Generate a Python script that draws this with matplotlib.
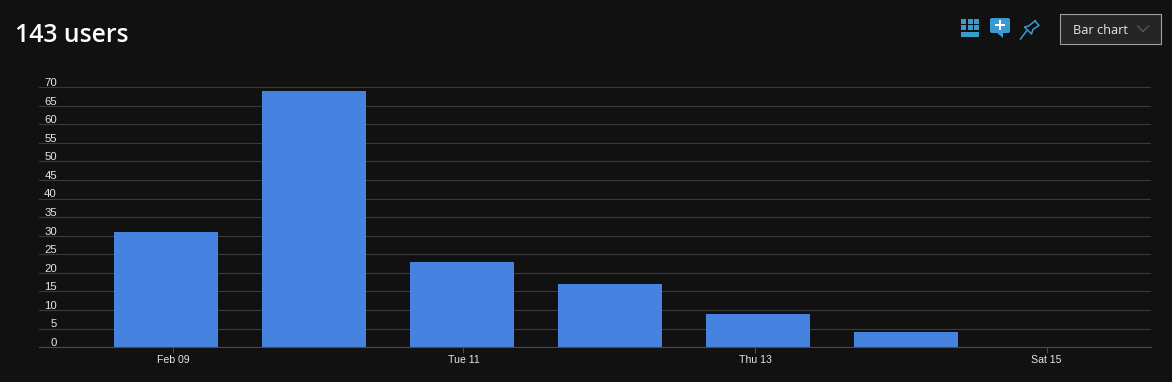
import matplotlib
matplotlib.use("Agg")
import matplotlib.pyplot as plt
from matplotlib.patches import Rectangle, FancyBboxPatch, Polygon

days = ["Feb 09", "Feb 10", "Tue 11", "Feb 12", "Thu 13", "Feb 14", "Sat 15"]
users = [31, 69, 23, 17, 9, 4, 0]
y_ticks = list(range(0, 75, 5))
x_tick_labels = ["Feb 09", "Tue 11", "Thu 13", "Sat 15"]
x_tick_pos = [0.05, 2.01, 3.98, 5.95]
title = "143 users"
view_label = "Bar chart"

BG = "#111111"
BAR = "#4682df"
GRID = "#3a3a3a"
ICON = "#3a9bd0"
W, H = 1172, 382

fig = plt.figure(figsize=(W / 100, H / 100), dpi=100, facecolor=BG)
ax = fig.add_axes([39 / W, 1 - 347.2 / H, (1151 - 39) / W, 260 / H], facecolor=BG)

x = list(range(len(days)))
ax.bar(x, users, width=104 / 148, color=BAR, zorder=3)
ax.set_xlim(-127 / 148, 985 / 148)
ax.set_ylim(0, 70)

for s in ax.spines.values():
    s.set_visible(False)
ax.spines["bottom"].set_visible(True)
ax.spines["bottom"].set_color("#4a4a4a")
ax.spines["bottom"].set_linewidth(0.8)
ax.spines["bottom"].set_zorder(4)

ax.set_yticks(y_ticks)
ax.set_yticklabels([])
ax.tick_params(axis="y", length=0)
ax.grid(axis="y", color=GRID, linewidth=0.8, zorder=1)
ax.set_axisbelow(True)
for v in y_ticks:
    ax.annotate(str(v), xy=(0, v), xycoords=ax.get_yaxis_transform(), xytext=(12.9, -0.6),
                textcoords="offset points", ha="right", va="bottom", color="#e6e6e6",
                fontsize=8.2, family="Liberation Sans")

ax.set_xticks(x_tick_pos)
ax.set_xticklabels(x_tick_labels, family="Liberation Sans", fontsize=7.6, color="#e6e6e6")
ax.tick_params(axis="x", length=4.2, width=0.8, color="#4a4a4a", pad=1.2)

# overlay in pixel coords for title + toolbar
ov = fig.add_axes([0, 0, 1, 1], facecolor="none")
ov.set_xlim(0, W)
ov.set_ylim(H, 0)
ov.axis("off")

ov.text(15, 35.5, title, color="white", fontsize=17.8, fontweight="semibold", family="Open Sans",
        ha="left", va="center")

# table icon
for cx, cw in ((961, 5), (967.5, 5), (973.5, 5.5)):
    ov.add_patch(Rectangle((cx, 19), cw, 4.5, color=ICON, lw=0))
    ov.add_patch(Rectangle((cx, 24.5), cw, 5.5, color=ICON, lw=0))
ov.add_patch(Rectangle((961, 32), 18, 5, color=ICON, lw=0))

# comment icon
ov.add_patch(FancyBboxPatch((992, 20), 16, 11, boxstyle="round,pad=2,rounding_size=2", color=ICON, lw=0))
ov.add_patch(Polygon([(996, 32), (1003, 32), (1003, 38)], color=ICON, lw=0))
ov.add_patch(Rectangle((995, 23.6), 10, 2.8, color="white", lw=0))
ov.add_patch(Rectangle((998.6, 20), 2.8, 10, color="white", lw=0))

# pin icon
ov.plot([1035, 1039, 1033, 1031.5, 1024.5, 1028.5, 1035], [21, 25.5, 29.5, 34, 27, 26, 21], color=ICON, lw=1.1)
ov.plot([1026.5, 1020.5], [31, 39], color=ICON, lw=1.1)

# dropdown
ov.add_patch(Rectangle((1060, 13.8), 100.5, 30, facecolor="#252525", edgecolor="#a0a0a0", lw=0.8))
ov.text(1073, 30, view_label, color="#e6e6e6", fontsize=9.2, family="Open Sans", ha="left", va="center")
ov.plot([1137.5, 1143, 1148.5], [26, 31.5, 26], color="#5a5a5a", lw=0.9)

fig.savefig("out.png", dpi=100, facecolor=BG)
